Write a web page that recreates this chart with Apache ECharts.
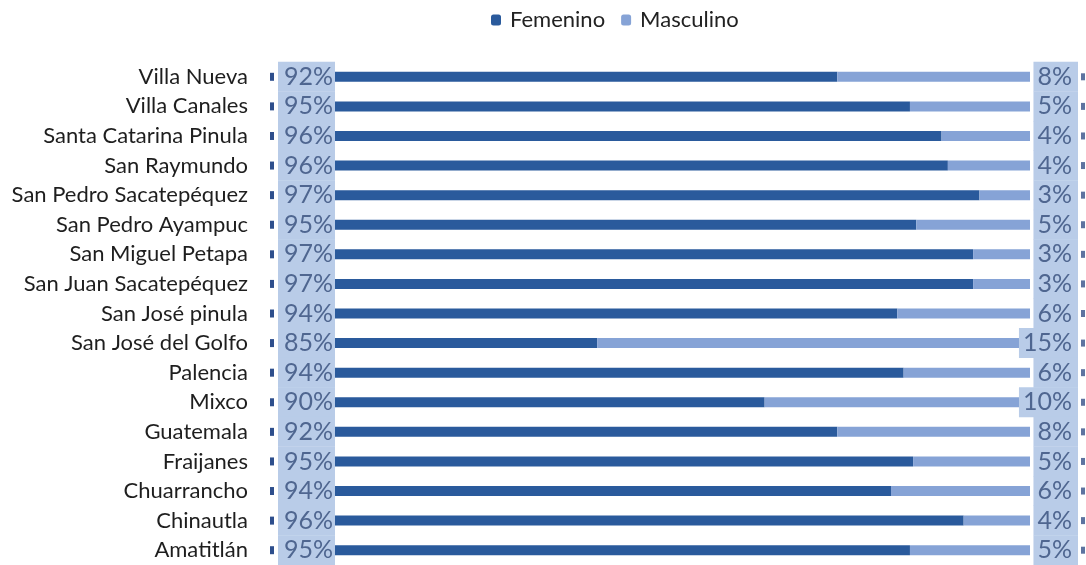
<!DOCTYPE html>
<html>
<head>
<meta charset="utf-8">
<script src="https://cdn.jsdelivr.net/npm/echarts@6/dist/echarts.min.js"></script>
<style>
  html, body { margin: 0; padding: 0; background: #ffffff; }
  #chart { width: 1086px; height: 565px; }
</style>
</head>
<body>
<div id="chart"></div>
<script>
// Municipios (top to bottom)
const categories = [
  'Villa Nueva', 'Villa Canales', 'Santa Catarina Pinula', 'San Raymundo',
  'San Pedro Sacatepéquez', 'San Pedro Ayampuc', 'San Miguel Petapa',
  'San Juan Sacatepéquez', 'San José pinula', 'San José del Golfo',
  'Palencia', 'Mixco', 'Guatemala', 'Fraijanes', 'Chuarrancho',
  'Chinautla', 'Amatitlán'
];
// Share (%); labels show the rounded values
const femenino = [92.3, 94.6, 95.6, 95.8, 96.8, 94.8, 96.6, 96.6, 94.2, 84.7,
                  94.4, 90.0, 92.3, 94.7, 94.0, 96.3, 94.6];
const masculino = [7.7, 5.4, 4.4, 4.2, 3.2, 5.2, 3.4, 3.4, 5.8, 15.3,
                   5.6, 10.0, 7.7, 5.3, 6.0, 3.7, 5.4];
const seriesNames = ['Femenino', 'Masculino'];
// visible window of the value axis (the chart is cut off at both ends)
const axisMin = 76.4;
const axisMax = 98.4;

const FONT = 'Lato';
const DARK = '#2a5a9c';
const LIGHT = '#86a3d6';
const BOX = '#b9cce8';
const LABEL_TXT = '#4f6690';

const chart = echarts.init(document.getElementById('chart'), null, { renderer: 'canvas' });

const pct = v => Math.round(v) + '%';

chart.setOption({
  animation: false,
  backgroundColor: '#ffffff',
  legend: {
    top: 4,
    left: 486,
    itemWidth: 10,
    itemHeight: 11,
    itemGap: 16,
    textStyle: { fontFamily: FONT, fontSize: 22, color: '#222', padding: [0, 0, 0, 4] },
    data: seriesNames
  },
  grid: { left: 335, right: 56, top: 62, bottom: 0, containLabel: false },
  xAxis: {
    type: 'value',
    min: axisMin,
    max: axisMax,
    show: false
  },
  yAxis: {
    type: 'category',
    inverse: true,
    data: categories,
    axisLine: { show: false },
    axisTick: { show: false },
    axisLabel: {
      margin: 87,
      fontFamily: FONT,
      fontSize: 22,
      color: '#1e1e1e'
    }
  },
  series: [
    {
      name: seriesNames[0],
      type: 'bar',
      stack: 'total',
      barWidth: 10,
      clip: true,
      itemStyle: { color: DARK },
      data: femenino,
      label: {
        show: true,
        position: 'left',
        distance: 0,
        formatter: p => '{mk|}{sp|}{box|' + pct(p.value) + '}',
        rich: {
          mk: { width: 4, height: 8, backgroundColor: '#2d4e8c' },
          sp: { width: 4 },
          box: {
            width: 55, height: 30, lineHeight: 30, align: 'right',
            padding: [0, 2, 0, 0],
            backgroundColor: BOX, color: LABEL_TXT,
            fontFamily: FONT, fontSize: 25
          }
        }
      }
    },
    {
      name: seriesNames[1],
      type: 'bar',
      stack: 'total',
      barWidth: 10,
      clip: true,
      itemStyle: { color: LIGHT },
      data: masculino,
      label: {
        show: true,
        position: 'right',
        distance: 0,
        align: 'right',
        offset: [55, 0],
        formatter: p => '{box|' + pct(p.value) + '}{sp|}{mk|}',
        rich: {
          mk: { width: 4, height: 7, backgroundColor: '#5d73a0' },
          sp: { width: 3 },
          box: {
            height: 30, lineHeight: 30,
            padding: [0, 6, 0, 4],
            backgroundColor: BOX, color: LABEL_TXT,
            fontFamily: FONT, fontSize: 25
          }
        }
      }
    }
  ]
});
</script>
</body>
</html>
